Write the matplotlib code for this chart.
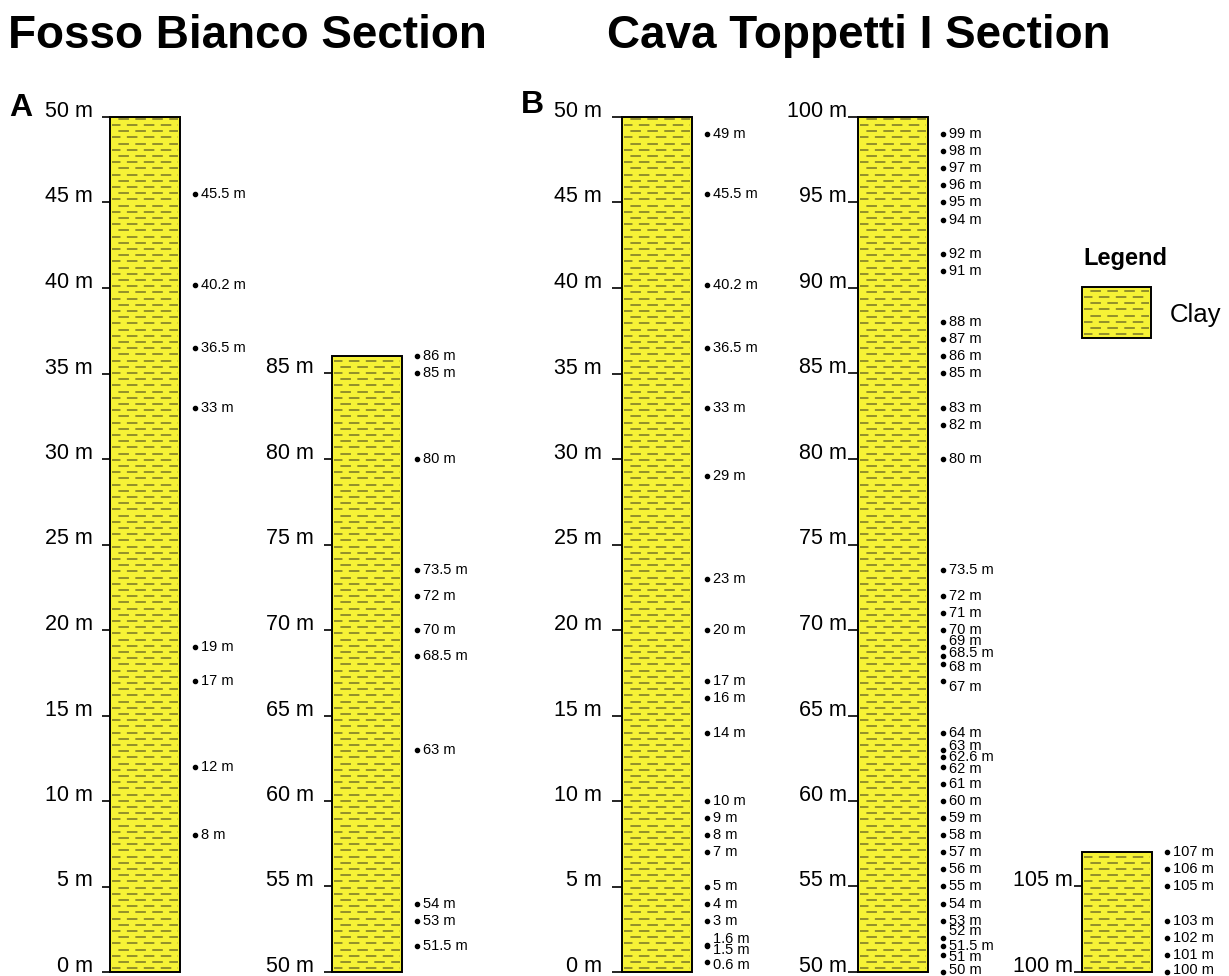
import numpy as np
import matplotlib
matplotlib.use('Agg')
import matplotlib.pyplot as plt
from matplotlib.patches import Rectangle
from matplotlib.collections import LineCollection

plt.rcParams['font.family'] = ['Liberation Sans', 'DejaVu Sans']
plt.rcParams['lines.scale_dashes'] = False

W, H, DPI = 1229, 976, 100
PT = 72.0 / DPI          # points per pixel
M_PX = 17.1              # pixels per metre of section

YELLOW = '#f6f236'
OLIVE = '#8f8c2a'

# sampled levels (m) in each column
fosso_low = [45.5, 40.2, 36.5, 33, 19, 17, 12, 8]
fosso_high = [86, 85, 80, 73.5, 72, 70, 68.5, 63, 54, 53, 51.5]
cava_low = [49, 45.5, 40.2, 36.5, 33, 29, 23, 20, 17, 16, 14, 10, 9, 8, 7,
            5, 4, 3, 1.6, 1.5, 0.6]
cava_mid = [99, 98, 97, 96, 95, 94, 92, 91, 88, 87, 86, 85, 83, 82, 80,
            73.5, 72, 71, 70, 69, 68.5, 68, 67, 64, 63, 62.6, 62, 61, 60,
            59, 58, 57, 56, 55, 54, 53, 52, 51.5, 51, 50]
cava_top = [107, 106, 105, 103, 102, 101, 100]

# column base / top (m)
fosso_low_range = (0, 50)
fosso_high_range = (50, 86)
cava_low_range = (0, 50)
cava_mid_range = (50, 100)
cava_top_range = (100, 107)

# label shifts (px, up is +) where samples are crowded
cava_low_shift = {1.6: 6, 1.5: -4, 0.6: -3}
cava_mid_shift = {69: 6, 68.5: 3, 68: -3, 67: -6, 63: 4, 62: -2,
                  52: 7, 51: -2, 50: 2}
cava_top_shift = {100: 2}


def fig_frac(x, y):
    return x / W, 1 - y / H


def clay_fill(ax, x0, width, y0, y1, step):
    back = Rectangle((x0, y0), width, y1 - y0, facecolor=YELLOW,
                     edgecolor='none', zorder=1)
    ax.add_patch(back)
    rows = np.arange(y0 + step * 0.6, y1, step)
    for k, phase in enumerate([1.5, 7.6]):
        segs = [[(x0 + 2, r), (x0 + width - 2, r)] for r in rows[k::2]]
        lc = LineCollection(segs, colors=OLIVE, linewidths=1.35,
                            linestyles=[(phase, (7.6, 4.6))], zorder=2)
        ax.add_collection(lc)
        lc.set_clip_path(back)
    edge = Rectangle((x0, y0), width, y1 - y0, facecolor='none',
                     edgecolor='black', lw=1.4, zorder=3)
    edge.set_clip_on(False)
    ax.add_patch(edge)


def draw_column(left, rng, samples, tick_len, tick_pad, shift=None):
    shift = shift or {}
    base, top = rng
    width_px = min(220, W - left)
    x0, y0 = fig_frac(left, 972)
    ax = fig.add_axes([x0, y0, width_px / W, 50 * M_PX / H])
    ax.set_xlim(0, width_px)
    ax.set_ylim(base, base + 50)
    for s in ax.spines.values():
        s.set_visible(False)
    ax.set_xticks([])

    clay_fill(ax, 0, 70, base, top, 6.2 / M_PX)

    ticks = list(range(base, top + 1, 5))
    ax.set_yticks(ticks, labels=[f'{t} m' for t in ticks])
    ax.tick_params(axis='y', direction='out', length=tick_len * PT,
                   width=1.2, pad=tick_pad * PT, labelsize=15.5)
    for lbl in ax.get_yticklabels():
        lbl.set_verticalalignment('baseline')

    ax.scatter([85] * len(samples), samples, s=9, color='black',
               zorder=4, clip_on=False)
    for v in samples:
        ax.annotate(f'{v:g} m', (85, v), xytext=(6 * PT, shift.get(v, 0) * PT),
                    textcoords='offset points', va='center', ha='left',
                    fontsize=10.5, annotation_clip=False)
    return ax


fig = plt.figure(figsize=(W / DPI, H / DPI), dpi=DPI)

draw_column(110, fosso_low_range, fosso_low, 8, 9)
draw_column(332, fosso_high_range, fosso_high, 8, 10)
draw_column(622, cava_low_range, cava_low, 10, 10, cava_low_shift)
draw_column(858, cava_mid_range, cava_mid, 10, 1, cava_mid_shift)
draw_column(1082, cava_top_range, cava_top, 8, 1, cava_top_shift)

# legend swatch
lx, ly = fig_frac(1082, 338)
lax = fig.add_axes([lx, ly, 69 / W, 51 / H])
lax.set_xlim(0, 69)
lax.set_ylim(0, 51 / M_PX)
lax.axis('off')
clay_fill(lax, 0, 69, 0, 51 / M_PX, 6.2 / M_PX)
fig.text(*fig_frac(1083, 265), 'Legend', fontsize=17, weight='bold',
         va='baseline')
fig.text(*fig_frac(1170, 315), 'Clay', fontsize=18.5, va='center')

# headings
fig.text(*fig_frac(8, 48), 'Fosso Bianco Section', fontsize=33,
         weight='bold', va='baseline')
fig.text(*fig_frac(607, 48), 'Cava Toppetti I Section', fontsize=33,
         weight='bold', va='baseline')
fig.text(*fig_frac(9, 116), 'A', fontsize=23, weight='bold', va='baseline')
fig.text(*fig_frac(521, 113), 'B', fontsize=23, weight='bold', va='baseline')

fig.savefig('out.png', dpi=DPI, facecolor='white')
